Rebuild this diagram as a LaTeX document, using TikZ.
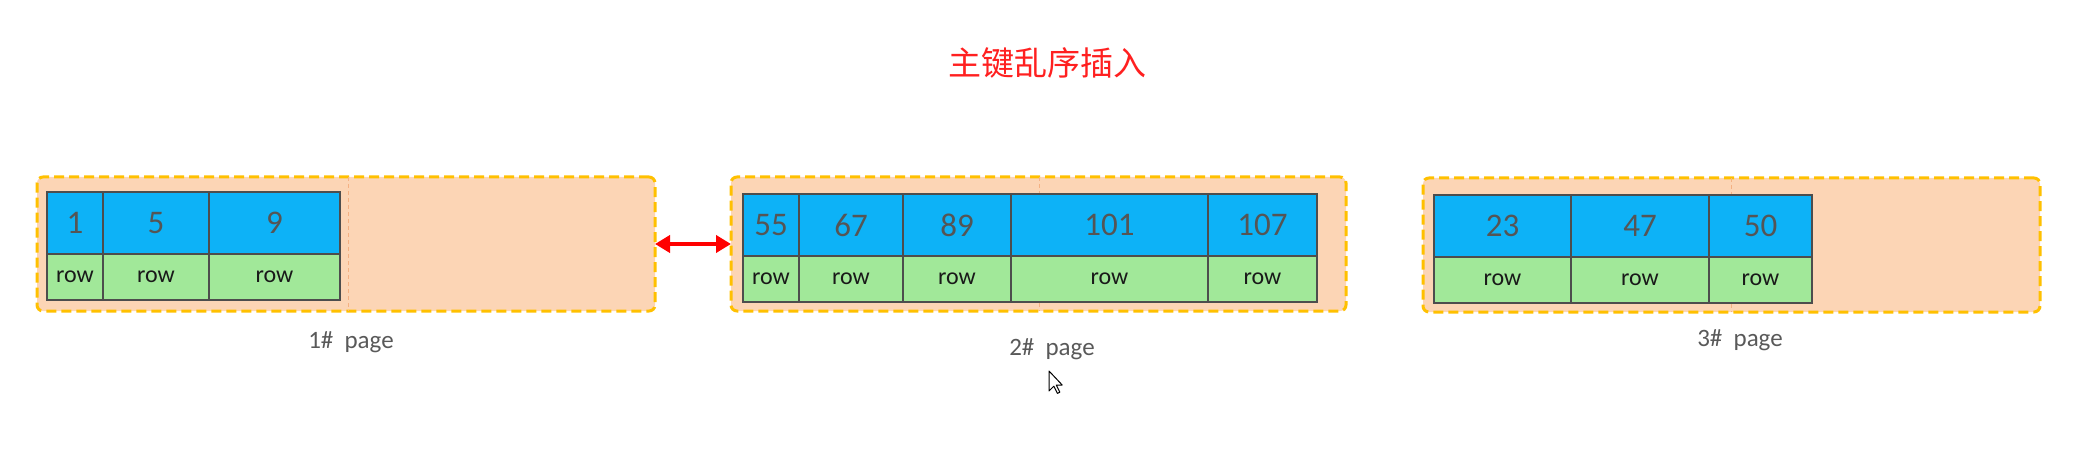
\documentclass[tikz,border=0pt]{standalone}
\usepackage{fontspec}
\setmainfont{Carlito}
\newfontfamily\cjk{Noto Sans CJK SC}
\usetikzlibrary{positioning,arrows.meta}
\definecolor{pagefill}{HTML}{FCD5B5}
\definecolor{pageedge}{HTML}{FFC000}
\definecolor{splitcol}{HTML}{F4B183}
\definecolor{keyblue}{HTML}{0DB2F7}
\definecolor{rowgreen}{HTML}{A1E899}
\definecolor{gridcol}{HTML}{4D4D4D}
\definecolor{numcol}{HTML}{555555}
\definecolor{labcol}{HTML}{595959}
\definecolor{titlered}{HTML}{FF2020}

\begin{document}
\begin{tikzpicture}[x = 1pt, y = -1pt,
	pagebox/.style = {draw = pageedge, fill = pagefill, line width = 3pt, dash pattern = on 10pt off 5pt, rounded corners = 6pt, anchor = north west, minimum height = 134pt, inner sep = 0pt, outer sep = 0pt},
	splitline/.style = {splitcol, line width = 1pt, dash pattern = on 4pt off 3pt},
	keycell/.style = {draw = gridcol, fill = keyblue, line width = 1.2pt, minimum height = 62pt, inner sep = 0pt, outer sep = 0pt, text = numcol, font = \fontsize{33}{33}\selectfont},
	rowcell/.style = {draw = gridcol, fill = rowgreen, line width = 1.2pt, minimum height = 46pt, inner sep = 0pt, outer sep = 0pt, text = black!90, font = \fontsize{24}{24}\selectfont},
	pagelabel/.style = {text = labcol, font = \fontsize{25}{25}\selectfont}]
	\useasboundingbox (0,0) rectangle (2080,473);

	\node[text = titlered, font = \cjk\fontsize{33}{33}\selectfont] (title) at (1047,63) {主键乱序插入};

	% pages
	\node[pagebox, minimum width = 618pt] (p1) at (37,177) {};
	\node[pagebox, minimum width = 615pt] (p2) at (731,177) {};
	\node[pagebox, minimum width = 617pt] (p3) at (1423,178) {};
	\draw[splitline] (348,177) -- (348,311);
	\draw[splitline] (1039,177) -- (1039,311);
	\draw[splitline] (1731,178) -- (1731,312);

	% 1# page
	\node[keycell, minimum width = 56pt, anchor = north west] (a1) at (47,192) {1};
	\node[keycell, minimum width = 106pt, right = 0pt of a1] (a2) {5};
	\node[keycell, minimum width = 131pt, right = 0pt of a2] (a3) {9};
	\node[rowcell, minimum width = 56pt, below = 0pt of a1] (ar1) {row};
	\node[rowcell, minimum width = 106pt, below = 0pt of a2] (ar2) {row};
	\node[rowcell, minimum width = 131pt, below = 0pt of a3] (ar3) {row};

	% 2# page
	\node[keycell, minimum width = 56pt, anchor = north west] (b1) at (743,194) {55};
	\node[keycell, minimum width = 104pt, right = 0pt of b1] (b2) {67};
	\node[keycell, minimum width = 108pt, right = 0pt of b2] (b3) {89};
	\node[keycell, minimum width = 197pt, right = 0pt of b3] (b4) {101};
	\node[keycell, minimum width = 109pt, right = 0pt of b4] (b5) {107};
	\node[rowcell, minimum width = 56pt, below = 0pt of b1] (br1) {row};
	\node[rowcell, minimum width = 104pt, below = 0pt of b2] (br2) {row};
	\node[rowcell, minimum width = 108pt, below = 0pt of b3] (br3) {row};
	\node[rowcell, minimum width = 197pt, below = 0pt of b4] (br4) {row};
	\node[rowcell, minimum width = 109pt, below = 0pt of b5] (br5) {row};

	% 3# page
	\node[keycell, minimum width = 137pt, anchor = north west] (c1) at (1434,195) {23};
	\node[keycell, minimum width = 138pt, right = 0pt of c1] (c2) {47};
	\node[keycell, minimum width = 103pt, right = 0pt of c2] (c3) {50};
	\node[rowcell, minimum width = 137pt, below = 0pt of c1] (cr1) {row};
	\node[rowcell, minimum width = 138pt, below = 0pt of c2] (cr2) {row};
	\node[rowcell, minimum width = 103pt, below = 0pt of c3] (cr3) {row};

	\node[pagelabel] (lab1) at (351,342) {1\#\hspace{0.45em}page};
	\node[pagelabel] (lab2) at (1052,349) {2\#\hspace{0.45em}page};
	\node[pagelabel] (lab3) at (1740,340) {3\#\hspace{0.45em}page};

	\draw[<->, red, line width = 4pt, >={Triangle[length = 15pt, width = 17pt]}] (p1.east) -- (p2.west);

	% cursor
	\draw[fill = white, line width = 1pt, line join = round] (1049,371) -- ++(0,20) -- ++(4.8,-4.8) -- ++(3.6,7.2) -- ++(2.4,-1.2) -- ++(-3.6,-7.2) -- ++(6,0) -- cycle;
\end{tikzpicture}
\end{document}
